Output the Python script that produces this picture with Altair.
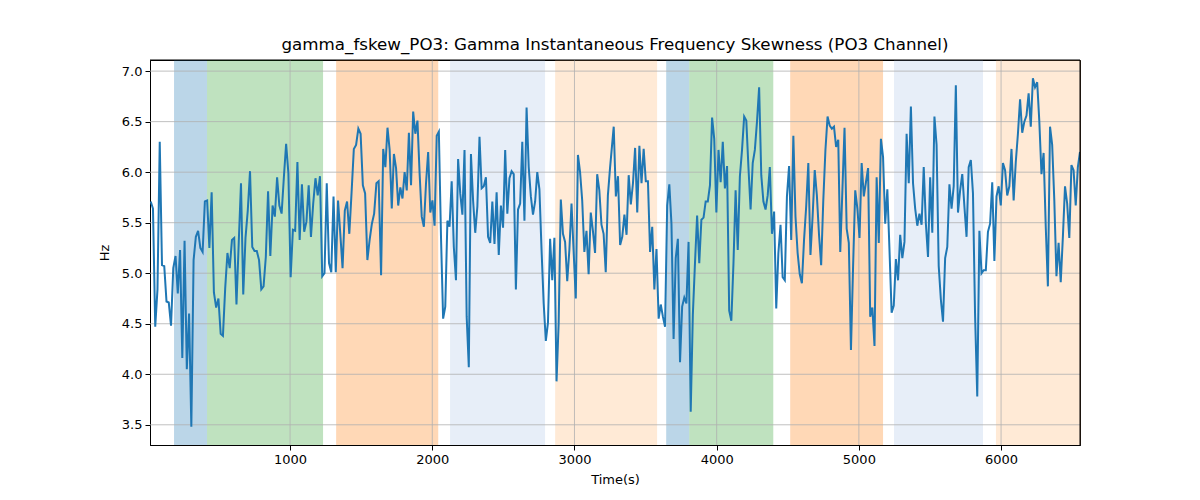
import altair as alt
import numpy as np
import pandas as pd

# --- line data, in four consecutive segments ---
seg_a_span = (20, 1623)
seg_a = [5.71, 5.64, 4.47, 4.84, 6.30, 5.08, 5.07, 4.72, 4.71, 4.48, 5.05, 5.17, 4.80, 5.23, 4.16,
         5.32, 4.05, 4.60, 3.48, 5.13, 5.36, 5.42, 5.25, 5.21, 5.71, 5.72, 5.25, 5.80, 4.81, 4.66,
         4.75, 4.40, 4.38, 4.85, 5.20, 5.05, 5.33, 5.35, 4.69, 5.30, 5.89, 4.79, 5.35, 5.62, 6.01,
         5.26, 5.22, 5.22, 5.13, 4.84, 4.87, 5.16, 5.81, 5.17, 5.67, 5.56, 5.95, 5.67, 5.59, 5.95,
         6.28, 5.99, 4.96, 5.43, 5.42, 6.10, 5.33, 5.88, 5.41, 5.51, 5.87, 5.36, 5.69, 5.94, 5.77,
         5.96, 4.97, 5.00, 5.89, 5.10, 5.01, 5.76, 5.01, 5.72, 5.39, 5.05, 5.62, 5.71, 5.39, 5.80,
         6.23, 6.27, 6.43, 6.38, 5.87, 5.79, 5.13, 5.33, 5.49, 5.59, 5.89, 5.91]

seg_b_span = (1640, 3250)
seg_b = [4.98, 6.23, 6.05, 6.44, 6.22, 5.64, 6.18, 6.04, 5.67, 5.85, 5.74, 6.00, 5.82, 6.39, 5.87,
         6.60, 6.38, 6.51, 5.99, 5.56, 5.46, 5.89, 6.20, 5.60, 5.72, 5.47, 6.36, 6.40, 5.36, 4.55,
         4.67, 5.52, 5.46, 5.91, 5.26, 4.93, 6.13, 5.79, 5.58, 6.22, 4.57, 4.07, 6.18, 5.72, 5.40,
         5.66, 6.35, 5.84, 5.86, 5.95, 5.36, 5.30, 5.71, 5.29, 5.80, 5.18, 5.67, 5.45, 6.22, 5.59,
         5.94, 6.01, 5.98, 4.84, 5.63, 5.69, 6.30, 5.52, 6.64, 6.05, 5.76, 5.58, 5.71, 6.00, 5.83,
         5.23, 4.70, 4.33, 4.51, 5.34, 4.93, 5.35, 3.93, 4.51, 5.73, 5.39, 5.31, 4.92, 5.23, 5.69,
         5.21, 4.75, 6.17, 6.00, 5.72, 5.21, 5.42, 4.99, 5.60, 5.42, 5.20, 5.98, 5.82, 5.48, 5.39,
         5.01, 5.77, 6.04]

seg_c_span = (3276, 4855)
seg_c = [6.45, 5.76, 5.96, 5.28, 5.36, 5.58, 5.38, 5.97, 5.68, 5.89, 6.24, 5.60, 6.26, 5.89, 6.23,
         5.91, 5.91, 5.21, 5.46, 4.84, 5.24, 4.55, 4.69, 4.57, 4.47, 5.67, 5.88, 5.49, 4.35, 5.15,
         5.34, 4.12, 4.67, 4.76, 4.70, 5.31, 3.63, 4.59, 5.10, 5.57, 5.10, 5.53, 5.55, 5.71, 5.71,
         5.87, 6.54, 6.33, 5.60, 6.22, 5.90, 6.30, 5.84, 6.06, 4.63, 4.53, 5.10, 5.82, 5.23, 5.96,
         6.22, 6.55, 6.51, 6.05, 5.63, 6.09, 6.22, 6.50, 6.84, 5.97, 5.71, 5.63, 5.77, 6.05, 5.39,
         5.61, 4.65, 5.20, 5.48, 4.96, 4.93, 5.76, 6.06, 5.33, 6.36, 5.56, 5.20, 4.99, 4.90, 5.33,
         5.66, 6.09, 5.18, 5.56, 6.02, 5.77, 5.38, 5.08, 5.72, 6.22, 6.55, 6.46, 6.43, 6.45, 6.25,
         6.32]

seg_d_span = (4869, 6555)
seg_d = [5.21, 5.82, 6.44, 5.44, 5.30, 4.24, 5.07, 5.82, 5.64, 5.35, 6.09, 5.76, 5.90, 6.04, 4.57,
         4.66, 4.28, 5.95, 5.30, 6.33, 6.15, 5.49, 5.83, 5.23, 4.61, 4.68, 5.14, 4.93, 5.38, 5.15,
         5.31, 6.38, 5.89, 6.65, 5.89, 5.64, 5.47, 5.59, 5.48, 6.05, 5.49, 5.16, 5.95, 5.40, 6.55,
         6.27, 5.07, 4.74, 4.52, 5.15, 5.26, 5.88, 5.64, 5.86, 6.86, 5.60, 5.82, 5.98, 5.66, 5.36,
         6.05, 6.12, 5.79, 4.57, 3.78, 5.42, 5.00, 5.03, 5.03, 5.41, 5.49, 5.90, 5.12, 5.76, 5.86,
         5.67, 6.09, 6.02, 5.77, 5.86, 6.23, 5.72, 6.10, 6.38, 6.72, 6.39, 6.50, 6.56, 6.78, 6.45,
         6.93, 6.84, 6.89, 6.50, 5.98, 6.19, 5.46, 4.87, 6.45, 6.27, 5.72, 4.97, 5.30, 4.91, 5.36,
         5.86, 5.69, 5.35, 6.07, 6.02, 5.67, 6.05, 6.20]

# --- shaded bands ---
band_start = [184, 416, 1324, 2125, 2864, 3645, 3807, 4517, 5247, 5964]
band_end = [416, 1232, 2042, 2793, 3581, 3807, 4398, 5170, 5873, 6560]
band_color = ["#1f77b4", "#2ca02c", "#ff7f0e", "#aec7e8", "#ffbb78",
              "#1f77b4", "#2ca02c", "#ff7f0e", "#aec7e8", "#ffbb78"]

x_ticks = [1000, 2000, 3000, 4000, 5000, 6000]
y_ticks = [3.5, 4.0, 4.5, 5.0, 5.5, 6.0, 6.5, 7.0]
x_domain = [15, 6555]
y_domain = [3.30, 7.11]

times = []
vals = []
for span, seg in [(seg_a_span, seg_a), (seg_b_span, seg_b), (seg_c_span, seg_c), (seg_d_span, seg_d)]:
    times.extend(np.linspace(span[0], span[1], len(seg)).tolist())
    vals.extend(seg)

line_df = pd.DataFrame({"t": times, "v": vals})
band_df = pd.DataFrame({"s": band_start, "e": band_end, "c": band_color})
xg_df = pd.DataFrame({"x": x_ticks})
yg_df = pd.DataFrame({"y": y_ticks})
frame_x_df = pd.DataFrame({"x": [x_domain[1]]})
frame_y_df = pd.DataFrame({"y": [y_domain[1]]})

FONT = "DejaVu Sans"
xscale = alt.Scale(domain=x_domain, nice=False, zero=False)
yscale = alt.Scale(domain=y_domain, nice=False, zero=False)

xaxis = alt.Axis(values=x_ticks, grid=False, title="Time(s)", tickSize=5, labelPadding=3,
                 titlePadding=7, labelFontSize=13, titleFontSize=13, labelColor="black",
                 titleColor="black", tickColor="black", domainColor="black",
                 labelFont=FONT, titleFont=FONT, titleFontWeight="normal", format="d")
yaxis = alt.Axis(values=y_ticks, grid=False, title="Hz", tickSize=5, labelPadding=3,
                 titlePadding=10, labelFontSize=13, titleFontSize=13, labelColor="black",
                 titleColor="black", tickColor="black", domainColor="black",
                 labelFont=FONT, titleFont=FONT, titleFontWeight="normal", format=".1f")

bands = alt.Chart(band_df).mark_rect(opacity=0.3).encode(
    x=alt.X("s:Q", scale=xscale, axis=xaxis),
    x2="e:Q",
    color=alt.Color("c:N", scale=None),
)

xgrid = alt.Chart(xg_df).mark_rule(color="#b0b0b0", strokeWidth=0.8).encode(
    x=alt.X("x:Q", scale=xscale)
)
ygrid = alt.Chart(yg_df).mark_rule(color="#b0b0b0", strokeWidth=0.8).encode(
    y=alt.Y("y:Q", scale=yscale)
)

line = alt.Chart(line_df).mark_line(color="#1f77b4", strokeWidth=2, clip=True).encode(
    x=alt.X("t:Q", scale=xscale, axis=xaxis),
    y=alt.Y("v:Q", scale=yscale, axis=yaxis),
)

# plot frame (top and right edges, matplotlib-style box)
frame_right = alt.Chart(frame_x_df).mark_rule(color="black", strokeWidth=1).encode(
    x=alt.X("x:Q", scale=xscale)
)
frame_top = alt.Chart(frame_y_df).mark_rule(color="black", strokeWidth=1).encode(
    y=alt.Y("y:Q", scale=yscale)
)

chart = alt.layer(bands, xgrid, ygrid, line, frame_right, frame_top).properties(
    width=930,
    height=385,
    title=alt.TitleParams(
        "gamma_fskew_PO3: Gamma Instantaneous Frequency Skewness (PO3 Channel)",
        font=FONT, fontSize=16.7, fontWeight="normal", color="black", anchor="middle", offset=6,
    ),
    padding={"left": 142, "top": 52, "right": 100, "bottom": 47},
    autosize=alt.AutoSizeParams(type="none"),
).configure(background="white").configure_view(stroke="black", strokeWidth=1)

chart.save("out.html", embed_options={"renderer": "svg", "actions": False})
